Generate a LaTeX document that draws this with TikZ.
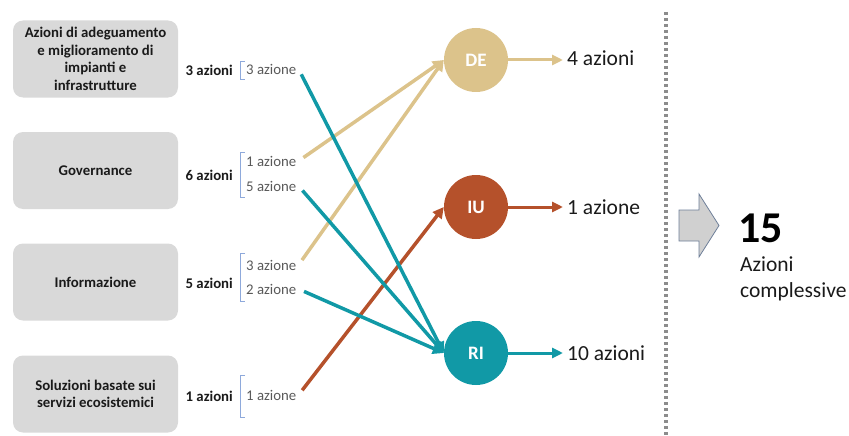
\documentclass[tikz,border=0pt]{standalone}
\usepackage{fontspec}
\setmainfont{Carlito}
\usetikzlibrary{arrows.meta}

\definecolor{boxgray}{HTML}{D9D9D9}
\definecolor{inkdark}{HTML}{1A1A1A}
\definecolor{subgray}{HTML}{595959}
\definecolor{brkblue}{HTML}{8EA9DB}
\definecolor{detan}{HTML}{DCC38B}
\definecolor{iured}{HTML}{B5512B}
\definecolor{riteal}{HTML}{1199A6}
\definecolor{dotgray}{HTML}{8C8C8C}
\definecolor{blockfill}{HTML}{D0D0D0}
\definecolor{blockline}{HTML}{6E7F99}

\begin{document}
\begin{tikzpicture}[x=1pt, y=-1pt,
    area/.style={fill=boxgray, rounded corners=10pt, minimum width=165pt, minimum height=77pt, align=center, text=inkdark, font=\bfseries\fontsize{14.8}{17.5}\selectfont},
    tot/.style={anchor=east, inner sep=2pt, text=inkdark, font=\bfseries\fontsize{14.8}{17.5}\selectfont},
    subtxt/.style={anchor=west, inner sep=2pt, text=subgray, font=\fontsize{14.8}{17.5}\selectfont},
    hub/.style={circle, minimum size=64pt, inner sep=0pt, text=white, font=\bfseries\fontsize{19}{22}\selectfont},
    res/.style={anchor=west, inner sep=2pt, text=inkdark, font=\fontsize{21.5}{26}\selectfont},
    brk/.style={draw=brkblue, line width=1pt},
    flowline/.style={line width=3.5pt, shorten <=6pt, -{Triangle[length=11pt,width=11pt]}},
    outarrow/.style={line width=3pt, shorten >=2pt, -{Triangle[length=11pt,width=10pt]}}]
  \useasboundingbox (0,0) rectangle (849,436);

  % categories
  \node[area] (B1) at (95.5,59) {Azioni di adeguamento\\e miglioramento di\\impianti e\\infrastrutture};
  \node[area] (B2) at (95.5,170.5) {Governance};
  \node[area] (B3) at (95.5,282) {Informazione};
  \node[area] (B4) at (95.5,394) {Soluzioni basate sui\\servizi ecosistemici};

  \node[tot] (T1) at (235,70) {3 azioni};
  \node[tot] (T2) at (235,175) {6 azioni};
  \node[tot] (T3) at (235,283) {5 azioni};
  \node[tot] (T4) at (235,396) {1 azioni};

  \draw[brk] (245,62) -- (240,62) -- (240,80) -- (245,80);
  \draw[brk] (245,152) -- (240,152) -- (240,197) -- (245,197);
  \draw[brk] (245,253) -- (240,253) -- (240,301) -- (245,301);
  \draw[brk] (245,375) -- (240,375) -- (240,417) -- (245,417);

  \node[subtxt] (S1) at (244,69) {3 azione};
  \node[subtxt] (S2) at (244,161) {1 azione};
  \node[subtxt] (S3) at (244,186) {5 azione};
  \node[subtxt] (S4) at (244,265) {3 azione};
  \node[subtxt] (S5) at (244,289) {2 azione};
  \node[subtxt] (S6) at (244,395) {1 azione};

  % targets
  \node[hub, fill=detan] (DE) at (476,60) {DE};
  \node[hub, fill=iured] (IU) at (476,207) {IU};
  \node[hub, fill=riteal] (RI) at (476,353) {RI};

  \draw[flowline, detan] (S2.east) -- (DE.west);
  \draw[flowline, detan] (S4.east) -- (DE.west);
  \draw[flowline, iured] (S6.east) -- (IU.west);
  \draw[flowline, riteal] (S1.east) -- (RI.west);
  \draw[flowline, riteal] (S3.east) -- (RI.west);
  \draw[flowline, riteal] (S5.east) -- (RI.west);

  \node[res] (R1) at (565,58) {4 azioni};
  \node[res] (R2) at (565,207) {1 azione};
  \node[res] (R3) at (565,353) {10 azioni};

  \draw[outarrow, detan] (DE.east) -- (R1.west |- DE.east);
  \draw[outarrow, iured] (IU.east) -- (R2.west |- IU.east);
  \draw[outarrow, riteal] (RI.east) -- (R3.west |- RI.east);

  % total
  \draw[dotgray, line width=3.2pt, dash pattern=on 3pt off 3pt] (666,12) -- (666,436);
  \draw[fill=blockfill, draw=blockline, line width=0.8pt, line join=miter]
    (679,210) -- (699,210) -- (699,194) -- (719,225.5) -- (699,257) -- (699,241) -- (679,241) -- cycle;
  \node[anchor=base west, inner sep=0pt, text=black, font=\bfseries\fontsize{44}{48}\selectfont] (N) at (738,242) {15};
  \node[anchor=north west, inner sep=0pt, align=left, text=inkdark, font=\fontsize{21.5}{26}\selectfont] (NT) at (740,257) {Azioni\\complessive};
\end{tikzpicture}
\end{document}
